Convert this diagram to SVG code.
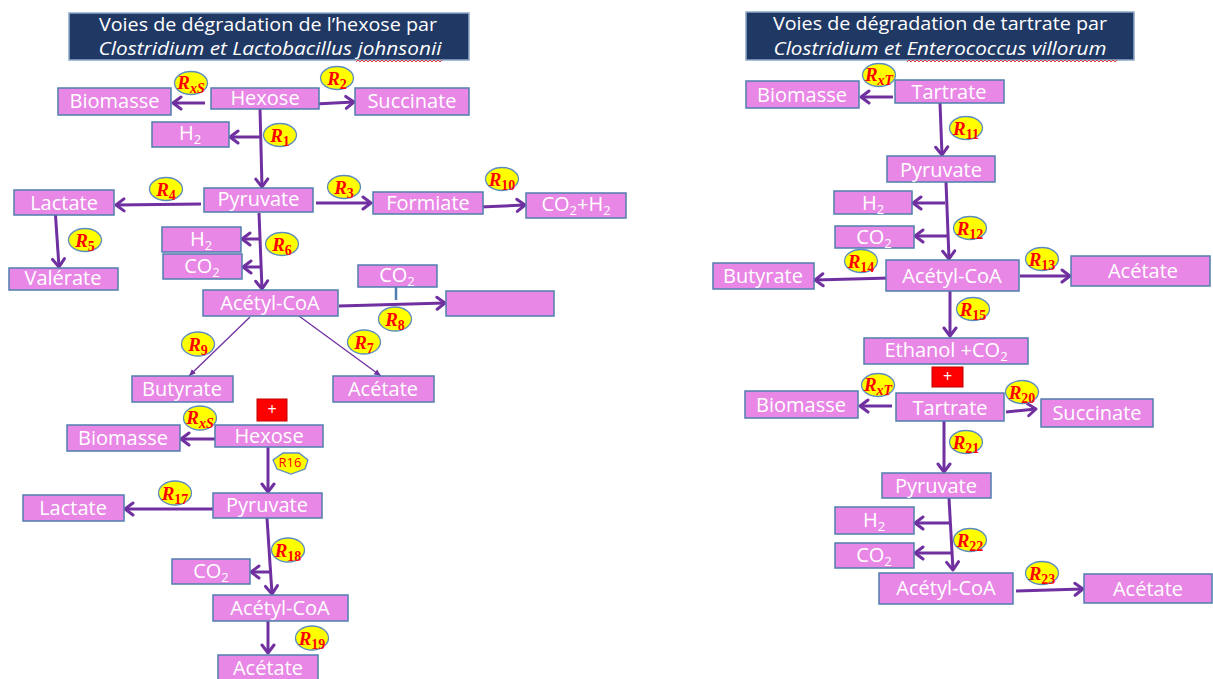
<svg xmlns="http://www.w3.org/2000/svg" width="1213" height="679" viewBox="0 0 1213 679">
<style>
.n rect{fill:#E887E6;stroke:#4F7FAF;stroke-width:1.5}
.n text{font-family:"Open Sans","Liberation Sans",sans-serif;font-size:20px;fill:#fff;text-anchor:middle}
.s{font-size:13px}
.t rect{fill:#203864;stroke:#8FA9C8;stroke-width:1.5}
.t text{font-family:"Open Sans","Liberation Sans",sans-serif;font-size:18px;fill:#fff;text-anchor:middle}
.t path.sq{fill:none;stroke:#E03030;stroke-width:0.9}
.c line{stroke:#7030A0;stroke-width:3;fill:none;marker-end:url(#a)}
.c line.th{stroke-width:1.3;marker-end:url(#tr)}
.r ellipse,.r polygon{fill:#FFFF00;stroke:#5B8BC0;stroke-width:1.3}
.r text{font-family:"Liberation Serif","DejaVu Serif",serif;font-style:italic;font-weight:bold;font-size:19px;fill:#FF0000;text-anchor:middle}
.r tspan.d{font-size:14px;font-style:normal}
.r tspan.i{font-size:14px}
.p rect{fill:#FF0000;stroke:#C00000;stroke-width:1}
.p text{font-family:"Open Sans","Liberation Sans",sans-serif;font-size:16px;fill:#fff;text-anchor:middle}
</style>
<defs>
<marker id="a" markerUnits="userSpaceOnUse" markerWidth="16" markerHeight="16" refX="12" refY="8" orient="auto" viewBox="0 0 16 16"><path d="M4,2 L12,8 L4,14" fill="none" stroke="#7030A0" stroke-width="3" stroke-linecap="round" stroke-linejoin="round"/></marker>
<marker id="tr" markerUnits="userSpaceOnUse" markerWidth="8" markerHeight="8" refX="7" refY="4" orient="auto" viewBox="0 0 8 8"><path d="M0,1 L7,4 L0,7 z" fill="#7030A0"/></marker>
</defs>

<g id="title-left" class="t">
<rect x="69" y="13" width="400" height="47"/>
<text x="268" y="31" textLength="338" lengthAdjust="spacingAndGlyphs">Voies de dégradation de l’hexose par</text>
<text x="270" y="55" font-style="italic" textLength="343" lengthAdjust="spacingAndGlyphs">Clostridium et Lactobacillus johnsonii</text>
<path class="sq" d="M356,62 l2,-2 l2,2 l2,-2 l2,2 l2,-2 l2,2 l2,-2 l2,2 l2,-2 l2,2 l2,-2 l2,2 l2,-2 l2,2 l2,-2 l2,2 l2,-2 l2,2 l2,-2 l2,2 l2,-2 l2,2 l2,-2 l2,2 l2,-2 l2,2 l2,-2 l2,2 l2,-2 l2,2 l2,-2 l2,2 l2,-2 l2,2 l2,-2 l2,2 l2,-2 l2,2 l2,-2 l2,2 l2,-2 l2,2 l2,-2"/>
</g>
<g id="title-right" class="t">
<rect x="746" y="12" width="388" height="48"/>
<text x="940" y="30" textLength="334" lengthAdjust="spacingAndGlyphs">Voies de dégradation de tartrate par</text>
<text x="940" y="55" font-style="italic" textLength="333" lengthAdjust="spacingAndGlyphs">Clostridium et Enterococcus villorum</text>
<path class="sq" d="M907,62 l2,-2 l2,2 l2,-2 l2,2 l2,-2 l2,2 l2,-2 l2,2 l2,-2 l2,2 l2,-2 l2,2 l2,-2 l2,2 l2,-2 l2,2 l2,-2 l2,2 l2,-2 l2,2 l2,-2 l2,2 l2,-2 l2,2 l2,-2 l2,2 l2,-2 l2,2 l2,-2 l2,2 l2,-2 l2,2 l2,-2 l2,2 l2,-2 l2,2 l2,-2 l2,2 l2,-2 l2,2 l2,-2 l2,2 l2,-2 l2,2 l2,-2 l2,2 l2,-2 l2,2 l2,-2 l2,2 l2,-2 l2,2 l2,-2 l2,2 l2,-2 l2,2 l2,-2 l2,2 l2,-2 l2,2 l2,-2 l2,2 l2,-2 l2,2 l2,-2 l2,2 l2,-2 l2,2 l2,-2 l2,2 l2,-2 l2,2 l2,-2 l2,2 l2,-2 l2,2 l2,-2 l2,2 l2,-2 l2,2 l2,-2 l2,2 l2,-2 l2,2 l2,-2 l2,2 l2,-2 l2,2 l2,-2 l2,2 l2,-2 l2,2 l2,-2 l2,2 l2,-2 l2,2 l2,-2 l2,2 l2,-2 l2,2 l2,-2 l2,2 l2,-2 l2,2 l2,-2"/>
</g>

<g id="connectors" class="c">
<line x1="205" y1="103" x2="173" y2="103"/>
<line x1="315" y1="104" x2="354" y2="102"/>
<line x1="260" y1="109" x2="262" y2="187"/>
<line x1="260" y1="137" x2="230" y2="137"/>
<line x1="201" y1="204" x2="116" y2="205"/>
<line x1="316" y1="203" x2="371" y2="203"/>
<line x1="480" y1="207" x2="525" y2="205"/>
<line x1="55" y1="208" x2="59" y2="267"/>
<line x1="259" y1="213" x2="262" y2="289"/>
<line x1="259" y1="239" x2="242" y2="239"/>
<line x1="260" y1="267" x2="243" y2="267"/>
<line x1="339" y1="306" x2="445" y2="303"/>
<line x1="250" y1="317" x2="189" y2="376" class="th"/>
<line x1="299" y1="316" x2="381" y2="376" class="th"/>
<line x1="215" y1="439" x2="181" y2="439"/>
<line x1="268" y1="447" x2="268" y2="492"/>
<line x1="221" y1="509" x2="125" y2="509"/>
<line x1="267" y1="518" x2="272" y2="594"/>
<line x1="270" y1="572" x2="251" y2="572"/>
<line x1="268" y1="621" x2="268" y2="653"/>
<line x1="893" y1="97" x2="861" y2="97"/>
<line x1="940" y1="103" x2="942" y2="155"/>
<line x1="945" y1="203" x2="913" y2="203"/>
<line x1="946" y1="182" x2="949" y2="259"/>
<line x1="948" y1="236" x2="915" y2="236"/>
<line x1="890" y1="278" x2="815" y2="280"/>
<line x1="1020" y1="276" x2="1070" y2="276"/>
<line x1="950" y1="291" x2="950" y2="336"/>
<line x1="892" y1="406" x2="860" y2="406"/>
<line x1="1006" y1="412" x2="1036" y2="409"/>
<line x1="944" y1="421" x2="944" y2="472"/>
<line x1="950" y1="523" x2="915" y2="523"/>
<line x1="949" y1="498" x2="953" y2="570"/>
<line x1="953" y1="553" x2="915" y2="553"/>
<line x1="1016" y1="591" x2="1083" y2="589"/>
<path d="M396,287 L396,300" stroke="#4F7FAF" stroke-width="2.5" fill="none"/>
</g>

<g id="n-biomasse-1" class="n"><rect x="58" y="88" width="113" height="27"/><text x="114.5" y="108">Biomasse</text></g>
<g id="n-hexose-1" class="n"><rect x="211" y="88" width="108" height="21"/><text x="265" y="105">Hexose</text></g>
<g id="n-succinate-1" class="n"><rect x="355" y="88" width="114" height="27"/><text x="412" y="108">Succinate</text></g>
<g id="n-h2-1" class="n"><rect x="152" y="122" width="77" height="25"/><text x="190" y="140">H<tspan class="s" dy="4">2</tspan></text></g>
<g id="n-lactate-1" class="n"><rect x="14" y="190" width="100" height="25"/><text x="64" y="210">Lactate</text></g>
<g id="n-pyruvate-1" class="n"><rect x="204" y="188" width="109" height="24"/><text x="258.5" y="206">Pyruvate</text></g>
<g id="n-formiate" class="n"><rect x="373" y="192" width="110" height="22"/><text x="428" y="210">Formiate</text></g>
<g id="n-co2h2" class="n"><rect x="526" y="193" width="100" height="25"/><text x="576" y="211">CO<tspan class="s" dy="4">2</tspan><tspan dy="-4">+H</tspan><tspan class="s" dy="4">2</tspan></text></g>
<g id="n-h2-2" class="n"><rect x="162" y="227" width="79" height="25"/><text x="201" y="246">H<tspan class="s" dy="4">2</tspan></text></g>
<g id="n-co2-2" class="n"><rect x="163" y="254" width="79" height="25"/><text x="202" y="273">CO<tspan class="s" dy="4">2</tspan></text></g>
<g id="n-valerate" class="n"><rect x="9" y="268" width="109" height="22"/><text x="63" y="285">Valérate</text></g>
<g id="n-co2-3" class="n"><rect x="358" y="265" width="79" height="22"/><text x="397" y="282">CO<tspan class="s" dy="4">2</tspan></text></g>
<g id="n-acetylcoa-1" class="n"><rect x="203" y="290" width="135" height="26"/><text x="270" y="310">Acétyl-CoA</text></g>
<g id="n-empty" class="n"><rect x="446" y="291" width="108" height="25"/></g>
<g id="n-butyrate-1" class="n"><rect x="132" y="376" width="101" height="26"/><text x="182" y="396">Butyrate</text></g>
<g id="n-acetate-1" class="n"><rect x="333" y="376" width="101" height="26"/><text x="383" y="396">Acétate</text></g>
<g id="plus-1" class="p"><rect x="257" y="399" width="30" height="22"/><text x="272" y="415">+</text></g>
<g id="n-biomasse-2" class="n"><rect x="67" y="425" width="113" height="26"/><text x="123" y="445">Biomasse</text></g>
<g id="n-hexose-2" class="n"><rect x="215" y="425" width="108" height="22"/><text x="269" y="443">Hexose</text></g>
<g id="n-lactate-2" class="n"><rect x="23" y="495" width="101" height="26"/><text x="73" y="515">Lactate</text></g>
<g id="n-pyruvate-2" class="n"><rect x="213" y="493" width="109" height="25"/><text x="267" y="512">Pyruvate</text></g>
<g id="n-co2-4" class="n"><rect x="172" y="559" width="78" height="25"/><text x="211" y="578">CO<tspan class="s" dy="4">2</tspan></text></g>
<g id="n-acetylcoa-2" class="n"><rect x="213" y="595" width="135" height="26"/><text x="280" y="615">Acétyl-CoA</text></g>
<g id="n-acetate-2" class="n"><rect x="218" y="655" width="100" height="28"/><text x="268" y="675">Acétate</text></g>

<g id="n-biomasse-r1" class="n"><rect x="746" y="81" width="113" height="27"/><text x="802" y="102">Biomasse</text></g>
<g id="n-tartrate-1" class="n"><rect x="895" y="80" width="109" height="23"/><text x="949" y="99">Tartrate</text></g>
<g id="n-pyruvate-r1" class="n"><rect x="887" y="156" width="108" height="26"/><text x="941" y="177">Pyruvate</text></g>
<g id="n-h2-r1" class="n"><rect x="834" y="191" width="78" height="23"/><text x="873" y="210">H<tspan class="s" dy="4">2</tspan></text></g>
<g id="n-co2-r1" class="n"><rect x="835" y="226" width="79" height="22"/><text x="874" y="244">CO<tspan class="s" dy="4">2</tspan></text></g>
<g id="n-acetylcoa-r1" class="n"><rect x="886" y="260" width="133" height="31"/><text x="952" y="283">Acétyl-CoA</text></g>
<g id="n-butyrate-r" class="n"><rect x="713" y="263" width="101" height="26"/><text x="763" y="283">Butyrate</text></g>
<g id="n-acetate-r1" class="n"><rect x="1071" y="256" width="139" height="30"/><text x="1143" y="278">Acétate</text></g>
<g id="n-ethanol" class="n"><rect x="864" y="338" width="164" height="26"/><text x="946" y="357">Ethanol +CO<tspan class="s" dy="4">2</tspan></text></g>
<g id="plus-2" class="p"><rect x="932" y="367" width="31" height="20"/><text x="947.5" y="382">+</text></g>
<g id="n-biomasse-r2" class="n"><rect x="745" y="391" width="113" height="27"/><text x="801" y="412">Biomasse</text></g>
<g id="n-tartrate-2" class="n"><rect x="896" y="393" width="108" height="28"/><text x="950" y="415">Tartrate</text></g>
<g id="n-succinate-r" class="n"><rect x="1041" y="399" width="112" height="28"/><text x="1097" y="420">Succinate</text></g>
<g id="n-pyruvate-r2" class="n"><rect x="882" y="473" width="109" height="25"/><text x="936" y="493">Pyruvate</text></g>
<g id="n-h2-r2" class="n"><rect x="835" y="507" width="79" height="27"/><text x="874" y="527">H<tspan class="s" dy="4">2</tspan></text></g>
<g id="n-co2-r2" class="n"><rect x="835" y="543" width="79" height="25"/><text x="874" y="562">CO<tspan class="s" dy="4">2</tspan></text></g>
<g id="n-acetylcoa-r2" class="n"><rect x="879" y="573" width="134" height="31"/><text x="946" y="595">Acétyl-CoA</text></g>
<g id="n-acetate-r2" class="n"><rect x="1084" y="574" width="128" height="29"/><text x="1148" y="596">Acétate</text></g>

<g id="r-xs-1" class="r"><ellipse cx="191" cy="83" rx="16.5" ry="11.5"/><text x="191" y="89">R<tspan class="i" dy="4">xS</tspan></text></g>
<g id="r-2" class="r"><ellipse cx="337" cy="78" rx="16.5" ry="11.5"/><text x="337" y="85">R<tspan class="d" dy="4">2</tspan></text></g>
<g id="r-1" class="r"><ellipse cx="280" cy="135" rx="16.5" ry="11.5"/><text x="280" y="142">R<tspan class="d" dy="4">1</tspan></text></g>
<g id="r-4" class="r"><ellipse cx="166" cy="189" rx="16.5" ry="11.5"/><text x="166" y="196">R<tspan class="d" dy="4">4</tspan></text></g>
<g id="r-3" class="r"><ellipse cx="344" cy="187" rx="16.5" ry="11.5"/><text x="344" y="194">R<tspan class="d" dy="4">3</tspan></text></g>
<g id="r-10" class="r"><ellipse cx="502" cy="179" rx="16.5" ry="11.5"/><text x="502" y="186">R<tspan class="d" dy="4">10</tspan></text></g>
<g id="r-5" class="r"><ellipse cx="85" cy="240" rx="16.5" ry="11.5"/><text x="85" y="247">R<tspan class="d" dy="4">5</tspan></text></g>
<g id="r-6" class="r"><ellipse cx="282" cy="244" rx="16.5" ry="11.5"/><text x="282" y="251">R<tspan class="d" dy="4">6</tspan></text></g>
<g id="r-8" class="r"><ellipse cx="395" cy="319" rx="16.5" ry="12"/><text x="395" y="326">R<tspan class="d" dy="4">8</tspan></text></g>
<g id="r-9" class="r"><ellipse cx="198" cy="344" rx="16.5" ry="12"/><text x="198" y="351">R<tspan class="d" dy="4">9</tspan></text></g>
<g id="r-7" class="r"><ellipse cx="364" cy="342" rx="16.5" ry="12"/><text x="364" y="349">R<tspan class="d" dy="4">7</tspan></text></g>
<g id="r-xs-2" class="r"><ellipse cx="200" cy="418" rx="16.5" ry="12"/><text x="200" y="424">R<tspan class="i" dy="4">xS</tspan></text></g>
<g id="r-16" class="r"><polygon points="283,453 299,453 308,460 305,469 291,474 277,469 273,460"/><text x="290" y="467" style="font-family:'Open Sans','Liberation Sans',sans-serif;font-style:normal;font-weight:normal;font-size:13px">R16</text></g>
<g id="r-17" class="r"><ellipse cx="175" cy="493" rx="16.5" ry="12"/><text x="175" y="500">R<tspan class="d" dy="4">17</tspan></text></g>
<g id="r-18" class="r"><ellipse cx="288" cy="550" rx="16.5" ry="12"/><text x="288" y="557">R<tspan class="d" dy="4">18</tspan></text></g>
<g id="r-19" class="r"><ellipse cx="312" cy="638" rx="16.5" ry="12"/><text x="312" y="645">R<tspan class="d" dy="4">19</tspan></text></g>

<g id="r-xt-1" class="r"><ellipse cx="879" cy="75" rx="16.5" ry="11.5"/><text x="879" y="81">R<tspan class="i" dy="4">xT</tspan></text></g>
<g id="r-11" class="r"><ellipse cx="966" cy="128" rx="16.5" ry="11.5"/><text x="966" y="135">R<tspan class="d" dy="4">11</tspan></text></g>
<g id="r-12" class="r"><ellipse cx="970" cy="228" rx="16.5" ry="11.5"/><text x="970" y="235">R<tspan class="d" dy="4">12</tspan></text></g>
<g id="r-14" class="r"><ellipse cx="861" cy="261" rx="16.5" ry="11.5"/><text x="861" y="268">R<tspan class="d" dy="4">14</tspan></text></g>
<g id="r-13" class="r"><ellipse cx="1042" cy="259" rx="16.5" ry="11.5"/><text x="1042" y="266">R<tspan class="d" dy="4">13</tspan></text></g>
<g id="r-15" class="r"><ellipse cx="973" cy="309" rx="16.5" ry="11.5"/><text x="973" y="316">R<tspan class="d" dy="4">15</tspan></text></g>
<g id="r-xt-2" class="r"><ellipse cx="878" cy="385" rx="16.5" ry="11.5"/><text x="878" y="391">R<tspan class="i" dy="4">xT</tspan></text></g>
<g id="r-20" class="r"><ellipse cx="1022" cy="392" rx="16.5" ry="11.5"/><text x="1022" y="399">R<tspan class="d" dy="4">20</tspan></text></g>
<g id="r-21" class="r"><ellipse cx="966" cy="442" rx="16.5" ry="11.5"/><text x="966" y="449">R<tspan class="d" dy="4">21</tspan></text></g>
<g id="r-22" class="r"><ellipse cx="970" cy="540" rx="16.5" ry="11.5"/><text x="970" y="547">R<tspan class="d" dy="4">22</tspan></text></g>
<g id="r-23" class="r"><ellipse cx="1042" cy="573" rx="16.5" ry="11.5"/><text x="1042" y="580">R<tspan class="d" dy="4">23</tspan></text></g>
</svg>
